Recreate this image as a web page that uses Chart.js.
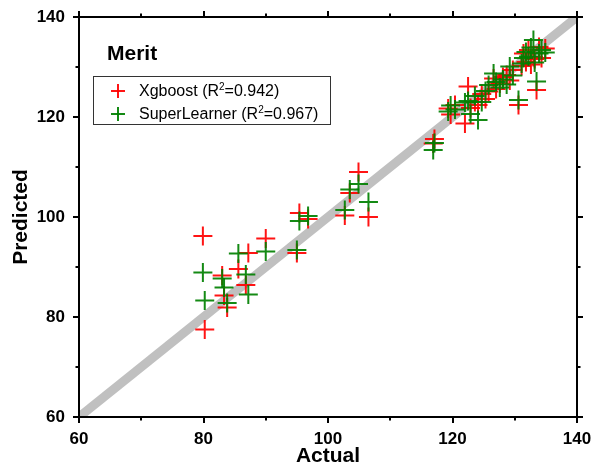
<!DOCTYPE html>
<html>
<head>
<meta charset="utf-8">
<script src="https://cdn.jsdelivr.net/npm/chart.js@4.4.0/dist/chart.umd.min.js"></script>
<style>
html,body{margin:0;padding:0;background:#fff;}
#wrap{position:relative;width:597px;height:469px;}
#c{position:absolute;left:0;top:0;}
#title{position:absolute;left:107px;top:40px;font:bold 21px Arial,"Liberation Sans",sans-serif;line-height:25px;color:#000;}
#legend{position:absolute;left:93px;top:76px;width:236px;height:47px;border:1px solid #333;font:16px Arial,"Liberation Sans",sans-serif;color:#000;background:#fff;}
.row{position:absolute;left:0;height:20px;line-height:20px;white-space:nowrap;}
.mk{position:absolute;left:17px;top:3px;width:14px;height:14px;}
.mk::before{content:"";position:absolute;left:0;top:6px;width:14px;height:1.6px;background:currentColor;}
.mk::after{content:"";position:absolute;left:6px;top:0;width:1.6px;height:14px;background:currentColor;}
.lbl{position:absolute;left:45px;top:0;}
.lbl sup{font-size:10px;line-height:0;vertical-align:6px;}
</style>
</head>
<body>
<div id="wrap">
  <canvas id="c" width="597" height="469"></canvas>
  <div id="title">Merit</div>
  <div id="legend"></div>
</div>
<script>
// Actual values (shared by both series)
const actual = [
  79.9, 80.2, 83.0, 83.3, 83.8, 85.6, 86.8, 87.2, 90.0, 95.0, 95.4, 96.8,
  102.7, 103.5, 104.9, 106.5,
  116.9, 117.1, 119.3, 119.7, 120.4, 122.0, 122.5, 122.9, 123.6, 124.1,
  124.7, 125.3, 125.8, 126.6, 127.0, 127.6, 128.1, 128.7, 129.2, 129.7,
  130.6, 131.1, 131.4, 131.8, 132.2, 132.6, 133.0, 133.2, 133.5, 133.9,
  134.3, 134.9
];
// Predicted by Xgboost
const xgboost = [
  96.2, 77.5, 88.3, 84.3, 81.9, 89.6, 86.4, 92.8, 95.7, 92.8, 100.8, 99.6,
  100.3, 104.8, 109.0, 100.0,
  114.7, 115.6, 121.7, 120.5, 122.4, 118.7, 126.1, 121.8, 123.0, 122.4,
  124.6, 123.6, 125.1, 127.7, 125.6, 126.7, 128.0, 128.4, 127.3, 129.4,
  122.4, 130.2, 132.7, 131.0, 133.4, 130.5, 132.0, 131.6, 125.4, 134.0,
  131.8, 133.7
];
// Predicted by SuperLearner
const superLearner = [
  88.9, 83.3, 87.7, 85.9, 82.8, 92.7, 88.5, 84.5, 93.1, 93.4, 99.2, 100.2,
  101.4, 105.5, 106.6, 103.0,
  113.4, 114.8, 121.1, 122.3, 121.5, 122.9, 123.2, 120.6, 124.2, 119.4,
  123.0, 125.2, 126.4, 128.7, 127.0, 125.9, 127.5, 126.5, 130.1, 128.3,
  123.4, 130.7, 131.8, 133.0, 132.1, 133.9, 135.4, 130.9, 127.1, 132.7,
  133.4, 132.9
];
const seriesNames = ['Xgboost', 'SuperLearner'];
const r2Values = ['0.942', '0.967'];
const seriesColors = ['rgba(255,0,0,0.92)', 'rgba(0,128,0,0.92)'];
const diagonal = [60, 140];
const xTickLabels = [60, 80, 100, 120, 140];
const yTickLabels = [60, 80, 100, 120, 140];
const minorTicks = [70, 90, 110, 130];

const toPts = (xs, ys) => xs.map((x, i) => ({x: x, y: ys[i]}));

// Legend (HTML text)
const legendEl = document.getElementById('legend');
seriesNames.forEach((n, i) => {
  const row = document.createElement('div');
  row.className = 'row';
  row.style.top = (4 + i * 23) + 'px';
  row.innerHTML = '<span class="mk" style="color:' + seriesColors[i] + '"></span>' +
    '<span class="lbl">' + n + ' (R<sup>2</sup>=' + r2Values[i] + ')</span>';
  legendEl.appendChild(row);
});

const framePlugin = {
  id: 'frame',
  afterDraw(chart) {
    const {ctx, chartArea: {left, right, top, bottom}, scales: {x, y}} = chart;
    ctx.save();
    ctx.strokeStyle = '#000';
    ctx.lineWidth = 2;
    ctx.strokeRect(left, top, right - left, bottom - top);
    ctx.beginPath();
    const marks = xTickLabels.map(v => [v, 6]).concat(minorTicks.map(v => [v, 3.5]));
    marks.forEach(([v, len]) => {
      const px = Math.round(x.getPixelForValue(v));
      ctx.moveTo(px, bottom); ctx.lineTo(px, bottom + len);
      ctx.moveTo(px, top); ctx.lineTo(px, top - len);
    });
    const ymarks = yTickLabels.map(v => [v, 6]).concat(minorTicks.map(v => [v, 3.5]));
    ymarks.forEach(([v, len]) => {
      const py = Math.round(y.getPixelForValue(v));
      ctx.moveTo(left, py); ctx.lineTo(left - len, py);
      ctx.moveTo(right, py); ctx.lineTo(right + len, py);
    });
    ctx.stroke();
    ctx.restore();
  }
};

const tickFont = {family: 'Arial, "Liberation Sans", sans-serif', size: 17, weight: 'bold'};
const titleFont = {family: 'Arial, "Liberation Sans", sans-serif', size: 21, weight: 'bold'};

new Chart(document.getElementById('c'), {
  type: 'scatter',
  data: {
    datasets: [
      {
        label: 'y = x',
        data: diagonal.map(v => ({x: v, y: v})),
        showLine: true,
        borderColor: '#c0c0c0',
        borderWidth: 9,
        pointRadius: 0,
        order: 3
      },
      {
        label: seriesNames[0] + ' (R²=' + r2Values[0] + ')',
        data: toPts(actual, xgboost),
        pointStyle: 'cross',
        pointRadius: 9.5,
        pointHoverRadius: 9.5,
        borderWidth: 2,
        borderColor: seriesColors[0],
        backgroundColor: seriesColors[0],
        order: 2
      },
      {
        label: seriesNames[1] + ' (R²=' + r2Values[1] + ')',
        data: toPts(actual, superLearner),
        pointStyle: 'cross',
        pointRadius: 9.5,
        pointHoverRadius: 9.5,
        borderWidth: 2,
        borderColor: seriesColors[1],
        backgroundColor: seriesColors[1],
        order: 1
      }
    ]
  },
  options: {
    responsive: false,
    animation: false,
    devicePixelRatio: 1,
    layout: {padding: {top: 17, right: 20, bottom: 0, left: 0}},
    plugins: {legend: {display: false}, tooltip: {enabled: false}},
    events: [],
    scales: {
      x: {
        type: 'linear', min: 60, max: 140,
        afterBuildTicks: s => { s.ticks = xTickLabels.map(v => ({value: v})); },
        afterFit: s => { s.height = 52; s.paddingLeft = 0; s.paddingRight = 0; },
        grid: {display: false, drawTicks: false},
        border: {display: false},
        ticks: {font: tickFont, color: '#000', padding: 12, maxRotation: 0, autoSkip: false},
        title: {display: true, text: 'Actual', font: titleFont, color: '#000', padding: {top: 0, bottom: 0}}
      },
      y: {
        type: 'linear', min: 60, max: 140,
        afterBuildTicks: s => { s.ticks = yTickLabels.map(v => ({value: v})); },
        afterFit: s => { s.width = 79; s.paddingTop = 0; s.paddingBottom = 0; },
        grid: {display: false, drawTicks: false},
        border: {display: false},
        ticks: {font: tickFont, color: '#000', padding: 14, autoSkip: false},
        title: {display: true, text: 'Predicted', font: titleFont, color: '#000', padding: {top: 9, bottom: 0}}
      }
    }
  },
  plugins: [framePlugin]
});
</script>
</body>
</html>
